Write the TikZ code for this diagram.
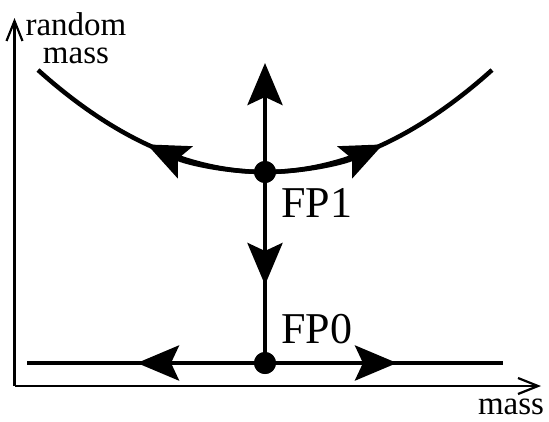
\documentclass[tikz,border=0pt]{standalone}
\usepackage{fontspec}
\setmainfont{Liberation Serif}
\usetikzlibrary{arrows.meta}
\begin{document}
\begin{tikzpicture}[x=1pt,y=-1pt,
  flowline/.style={line width=4.5pt,line cap=butt},
  axisline/.style={line width=2.2pt},
  fptip/.style={-{Stealth[length=42pt,width=35pt,inset=8pt]}},
  axtip/.style={-{Straight Barb[length=20pt,width=16pt,line width=2.2pt]}},
  fpdot/.style={circle,fill=black,inner sep=0pt,minimum size=22pt},
  fplabel/.style={font=\fontsize{44}{48}\selectfont,inner sep=0pt,anchor=base west},
  axlabel/.style={font=\fontsize{33}{28}\selectfont,inner sep=0pt,align=center}]
\useasboundingbox (0,0) rectangle (549,421);
% points
\coordinate (origin) at (14.5,386);
\coordinate (xend) at (541,386);
\coordinate (yend) at (14.5,18);
\coordinate (top) at (265,63);
\coordinate (dn) at (265,285);
\coordinate (hl) at (27,363);
\coordinate (hr) at (503,363);
\coordinate (hlt) at (137,363);
\coordinate (hrt) at (397,363);
\coordinate (tl) at (147,144.4);
\coordinate (tr) at (383,144.4);
\coordinate (cl) at (38,70);
\coordinate (cr) at (492,70);
\node[fpdot] (fp1) at (265,172) {};
\node[fpdot] (fp0) at (265,363) {};
% axes
\draw[axisline,axtip] (origin) -- (xend);
\draw[axisline,axtip] (origin) -- (yend);
% curve (parabola halves)
\draw[flowline] (fp1.center) .. controls (189.33,172) and (113.67,138) .. (cl);
\draw[flowline] (fp1.center) .. controls (340.67,172) and (416.33,138) .. (cr);
\draw[flowline,fptip] (fp1.center) .. controls (225.7,172) and (186.3,162.8) .. (tl);
\draw[flowline,fptip] (fp1.center) .. controls (304.3,172) and (343.7,162.8) .. (tr);
% vertical
\draw[flowline,fptip] (fp0.center) -- (top);
\draw[flowline,fptip] (fp1.center) -- (dn);
% horizontal
\draw[flowline] (hl) -- (hr);
\draw[flowline,fptip] (fp0.center) -- (hlt);
\draw[flowline,fptip] (fp0.center) -- (hrt);
\node[fpdot] at (fp1) {};
\node[fpdot] at (fp0) {};
% labels
\node[fplabel] (l1) at (281,217) {FP1};
\node[fplabel] (l0) at (281,343) {FP0};
\node[axlabel,anchor=base] (ylab) at (76,63) {random\\mass};
\node[axlabel,anchor=base] (xlab) at (511,414) {mass};
\end{tikzpicture}
\end{document}
